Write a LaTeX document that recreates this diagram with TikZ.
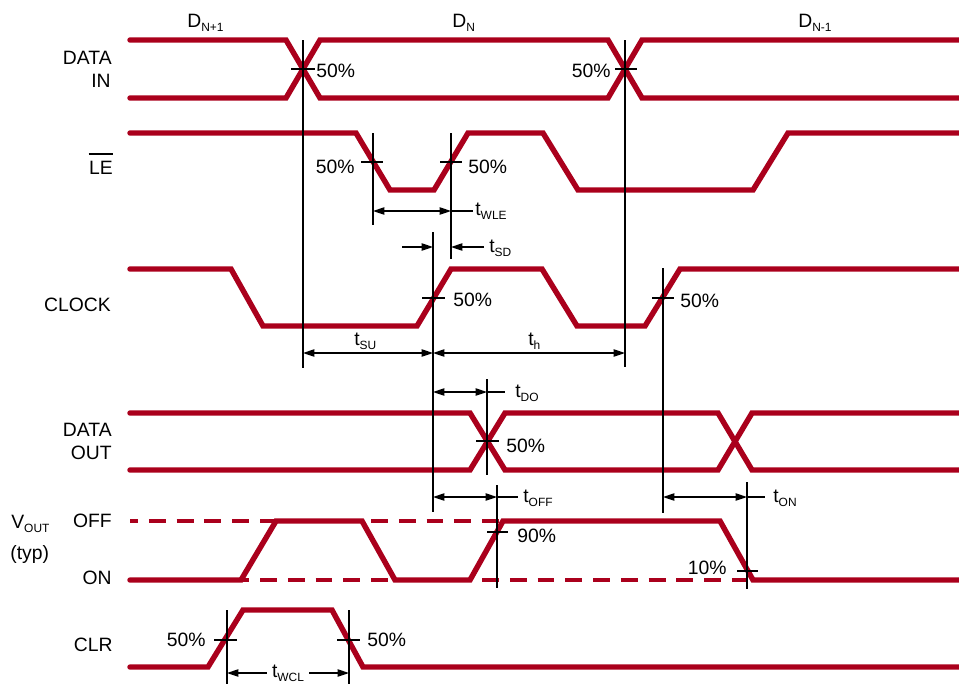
\documentclass[tikz,border=0pt]{standalone}
\usepackage{fontspec}
\setmainfont{Liberation Sans}
\usetikzlibrary{arrows.meta}
\definecolor{wavered}{RGB}{170,0,28}
\newcommand{\sub}[1]{\raisebox{-2.6pt}{\fontsize{6.8}{7}\selectfont #1}}

\begin{document}
\begin{tikzpicture}[x=0.02cm,y=-0.02cm,
  wave/.style={draw=wavered,line width=3.1pt,line cap=round},
  level/.style={draw=wavered,line width=2.2pt,dash pattern=on 9.6pt off 6.2pt,dash phase=5pt},
  guide/.style={draw=black,line width=0.7pt},
  dim/.style={guide,{Triangle[length=6.5pt,width=4.2pt]}-{Triangle[length=6.5pt,width=4.2pt]}},
  tip/.style={guide,-{Triangle[length=6.5pt,width=4.2pt]}},
  every node/.style={font=\fontsize{11}{13}\selectfont,inner sep=0pt}]

\useasboundingbox (0,0) rectangle (959,684);

% signal names
\node[anchor=base east] (datain) at (112,64) {DATA};
\node[anchor=base east] (in) at (111,87) {IN};
\node[anchor=base east] (le) at (113,174) {LE};
\draw[line width=0.7pt] ([yshift=3.6pt]le.north west) -- ([yshift=3.6pt]le.north east);
\node[anchor=base east] (clock) at (111,311) {CLOCK};
\node[anchor=base east] (dataout) at (112,436) {DATA};
\node[anchor=base east] (out) at (112,459) {OUT};
\node[anchor=base west] (vout) at (11,528) {V\sub{OUT}};
\node[anchor=base west] (typ) at (10,559) {(typ)};
\node[anchor=base east] (off) at (112,527) {OFF};
\node[anchor=base east] (on) at (112,584) {ON};
\node[anchor=base east] (clr) at (113,651) {CLR};

% data words
\node[anchor=base west] (dn1) at (187,27) {D\sub{N+1}};
\node[anchor=base west] (dn) at (452,27) {D\sub{N}};
\node[anchor=base west] (dnm) at (798,27) {D\sub{N-1}};

% levels of VOUT
\draw[level] (130,521) -- (500,521);
\draw[level] (130,580) -- (747,580);

% waveforms
\draw[wave] (130,40) -- (286,40) -- (320,98) -- (608,98) -- (642,40) -- (959,40);
\draw[wave] (130,98) -- (286,98) -- (320,40) -- (608,40) -- (642,98) -- (959,98);
\draw[wave] (130,133) -- (356,133) -- (390,190) -- (434,190) -- (468,133) -- (543,133) -- (578,190) -- (753,190) -- (788,133) -- (959,133);
\draw[wave] (130,269) -- (231,269) -- (263,326) -- (417,326) -- (451,269) -- (542,269) -- (577,326) -- (645,326) -- (680,269) -- (959,269);
\draw[wave] (130,413) -- (470,413) -- (505,470) -- (718,470) -- (752,413) -- (959,413);
\draw[wave] (130,470) -- (470,470) -- (505,413) -- (718,413) -- (752,470) -- (959,470);
\draw[wave] (130,580) -- (241,580) -- (276,521) -- (362,521) -- (395,580) -- (470,580) -- (503,521) -- (720,521) -- (753,580) -- (959,580);
\draw[wave] (130,667) -- (208,667) -- (243,610) -- (332,610) -- (363,667) -- (959,667);

% guide lines
\draw[guide] (303,40) -- (303,368);
\draw[guide] (625,40) -- (625,367);
\draw[guide] (373,133) -- (373,225);
\draw[guide] (451,133) -- (451,259);
\draw[guide] (433,232) -- (433,512);
\draw[guide] (663,268) -- (663,513);
\draw[guide] (487,379) -- (487,475);
\draw[guide] (497,485) -- (497,588);
\draw[guide] (747,482) -- (747,589);
\draw[guide] (227,610) -- (227,684);
\draw[guide] (349,610) -- (349,684);

% level ticks
\draw[guide] (291,69) -- (315,69);
\draw[guide] (615,69) -- (637,69);
\draw[guide] (361,162) -- (383,162);
\draw[guide] (440,162) -- (462,162);
\draw[guide] (422,298) -- (445,298);
\draw[guide] (652,298) -- (674,298);
\draw[guide] (476,441) -- (499,441);
\draw[guide] (487,532) -- (508,532);
\draw[guide] (737,571) -- (758,571);
\draw[guide] (214,640) -- (237,640);
\draw[guide] (337,640) -- (360,640);

% level labels
\node[anchor=base west] (p1) at (316,77) {50\%};
\node[anchor=base east] (p2) at (611,77) {50\%};
\node[anchor=base east] (p3) at (355,173) {50\%};
\node[anchor=base west] (p4) at (468,173) {50\%};
\node[anchor=base west] (p5) at (453,306) {50\%};
\node[anchor=base west] (p6) at (680,307) {50\%};
\node[anchor=base west] (p7) at (506,452) {50\%};
\node[anchor=base west] (p8) at (517,542) {90\%};
\node[anchor=base east] (p9) at (727,574) {10\%};
\node[anchor=base east] (p10) at (206,646) {50\%};
\node[anchor=base west] (p11) at (367,646) {50\%};

% timing
\draw[dim] (373,211) -- (451,211);
\draw[guide] (451,211) -- (473,211);
\node[anchor=base west] (twle) at (475,215) {t\sub{WLE}};

\draw[tip] (402,247) -- (433,247);
\draw[tip] (484,247) -- (451,247);
\node[anchor=base west] (tsd) at (489,252) {t\sub{SD}};

\draw[dim] (303,353) -- (433,353);
\node[anchor=base west] (tsu) at (354,345) {t\sub{SU}};
\draw[dim] (433,353) -- (625,353);
\node[anchor=base west] (th) at (528,345) {t\sub{h}};

\draw[dim] (433,392) -- (487,392);
\draw[guide] (487,392) -- (505,392);
\node[anchor=base west] (tdo) at (515,397) {t\sub{DO}};

\draw[dim] (433,497) -- (497,497);
\draw[guide] (497,497) -- (518,497);
\node[anchor=base west] (toff) at (523,502) {t\sub{OFF}};

\draw[dim] (663,497) -- (747,497);
\draw[guide] (747,497) -- (765,497);
\node[anchor=base west] (ton) at (773,502) {t\sub{ON}};

\draw[dim] (227,673) -- (349,673);
\node[anchor=base,fill=white,inner xsep=3pt,inner ysep=0pt] (twcl) at (288,677) {t\sub{WCL}};
\end{tikzpicture}
\end{document}
